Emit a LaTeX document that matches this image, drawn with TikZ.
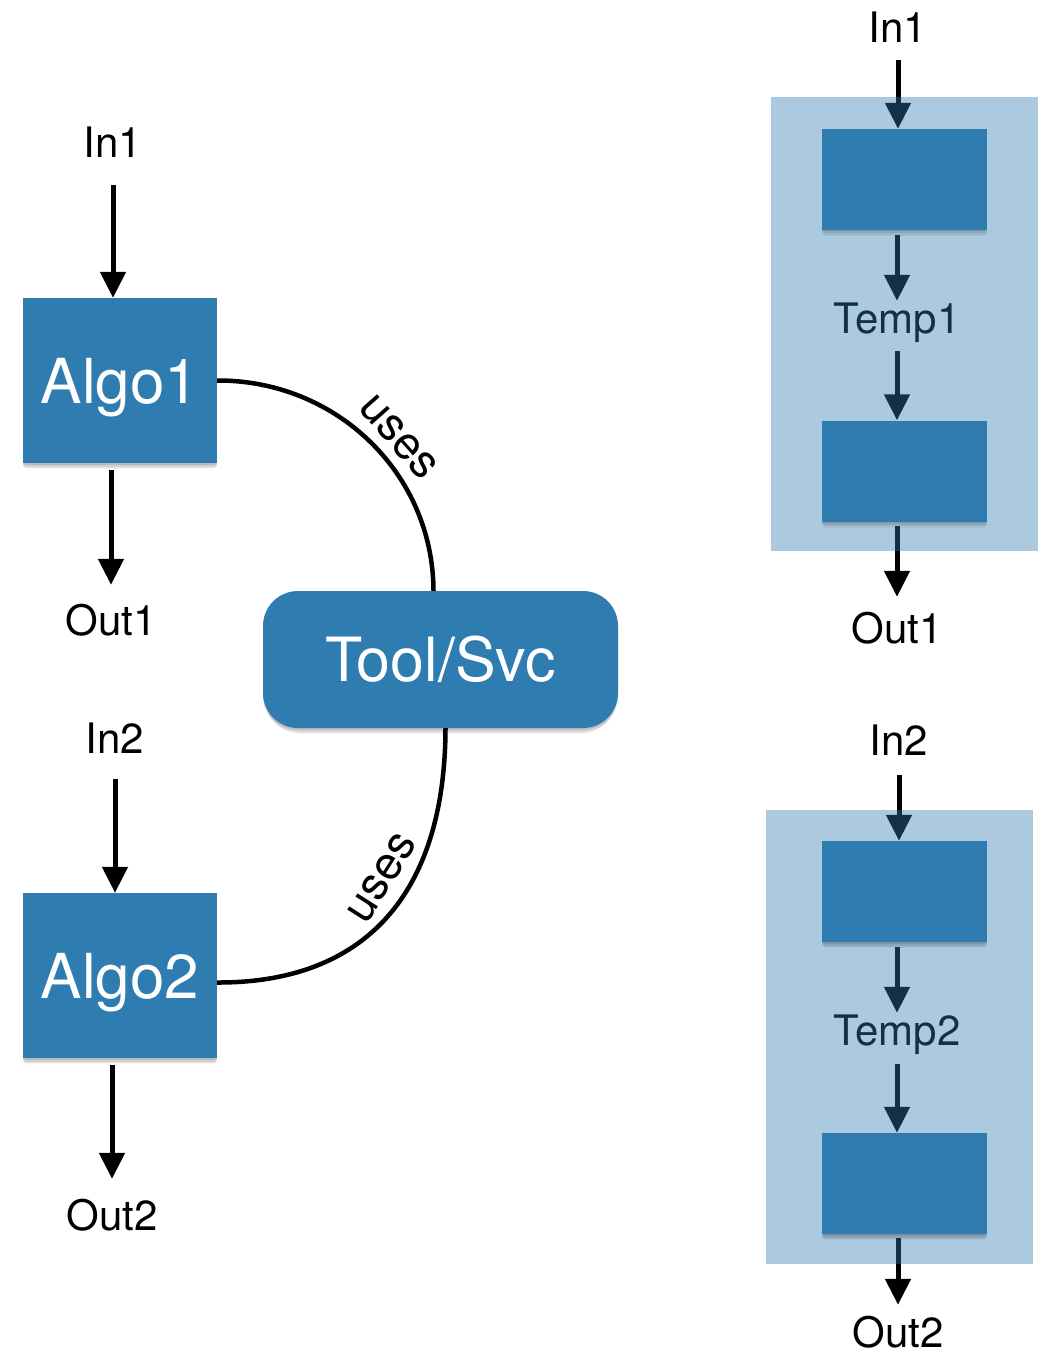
\documentclass[tikz,border=0pt]{standalone}
\usepackage{fontspec}
\setmainfont{TeX Gyre Heros}
\usetikzlibrary{arrows.meta,shadows}
\definecolor{boxblue}{RGB}{46,124,176}
\pgfdeclarelayer{paper}
\pgfdeclarelayer{back}
\pgfdeclarelayer{front}
\pgfsetlayers{paper,back,main,front}
\tikzset{
  lbl/.style={font=\fontsize{42}{42}\selectfont, inner sep=0pt, text height=30pt, text depth=0pt},
  % a soft drop shadow built from a few faint offset copies
  softshadow/.style={
    general shadow={shadow xshift=0pt, shadow yshift=-1.5pt, fill=black, opacity=0.10},
    general shadow={shadow xshift=0pt, shadow yshift=-3.5pt, fill=black, opacity=0.09},
    general shadow={shadow xshift=0pt, shadow yshift=-5.5pt, shadow scale=0.99, fill=black, opacity=0.06},
    general shadow={shadow xshift=0pt, shadow yshift=-7.5pt, shadow scale=0.98, fill=black, opacity=0.04}},
  algobox/.style={fill=boxblue, minimum width=194pt, minimum height=165pt, inner sep=0pt,
    text=white, font=\fontsize{62}{62}\selectfont, text height=45pt, text depth=0pt, softshadow},
  stagebox/.style={fill=boxblue, minimum width=165pt, minimum height=101pt, inner sep=0pt, softshadow},
  toolbox/.style={fill=boxblue, rounded corners=35pt, minimum width=355pt, minimum height=137pt,
    inner sep=0pt, text=white, font=\fontsize{61}{61}\selectfont, text height=44pt, text depth=0pt,
    softshadow},
  panel/.style={fill=boxblue, fill opacity=0.4, minimum width=267pt, minimum height=454pt, inner sep=0pt},
  flow/.style={line width=5pt, -{Triangle[width=25pt,length=26pt]}},
  link/.style={line width=4.5pt},
  usesl/.style={font=\fontsize{46}{46}\selectfont, inner sep=0pt},
}
\begin{document}
\begin{tikzpicture}[x=1pt,y=-1pt]
\begin{pgfonlayer}{paper}
  \fill[white] (0,0) rectangle (1041,1356);
\end{pgfonlayer}
\useasboundingbox (0,0) rectangle (1041,1356);

% ---- left: two algorithms sharing one tool ----
\node[lbl] (in1) at (113,143) {In1};
\node[algobox] (algo1) at (120,380.5) {Algo1};
\node[lbl] (out1) at (111,620) {Out1};
\node[lbl] (in2) at (115,738) {In2};
\node[algobox] (algo2) at (120,975.5) {Algo2};
\node[lbl] (out2) at (112,1215) {Out2};
\node[toolbox] (tool) at (440.5,659.5) {Tool/Svc};

\draw[flow, shorten <=27pt] (in1) -- (in1 |- algo1.north);
\draw[flow, shorten <=7pt, shorten >=20pt] (out1 |- algo1.south) -- (out1);
\draw[flow, shorten <=26pt] (in2) -- (in2 |- algo2.north);
\draw[flow, shorten <=7pt, shorten >=21pt] (out2 |- algo2.south) -- (out2);

\draw[link] (algo1.east) .. controls (336,380) and (433,473) .. ([xshift=-7pt]tool.north)
  node[usesl, sloped, above=9pt, pos=0.55] {uses};
\draw[link] ([xshift=5pt]tool.south) .. controls (445,894) and (365,983) .. ([yshift=-7pt]algo2.east)
  node[usesl, sloped, above=13pt, pos=0.41] {uses};

% ---- right: two pipelines with a temporary in between ----
\begin{pgfonlayer}{front}
  \node[stagebox] (s1a) at (904.5,179.5) {};
  \node[stagebox] (s1b) at (904.5,471) {};
  \node[stagebox] (s2a) at (904.5,891.5) {};
  \node[stagebox] (s2b) at (904.5,1183.5) {};
\end{pgfonlayer}

\node[panel] (panel1) at (904.5,324) {};
\node[panel] (panel2) at (899.5,1036.5) {};

\begin{pgfonlayer}{back}
  \node[lbl] (rin1) at (898,28) {In1};
  \node[lbl] (temp1) at (897,318) {Temp1};
  \node[lbl] (rout1) at (897,628) {Out1};
  \node[lbl] (rin2) at (899,740) {In2};
  \node[lbl] (temp2) at (897,1030) {Temp2};
  \node[lbl] (rout2) at (898,1332) {Out2};

  \draw[flow, shorten <=17pt] (rin1) -- (rin1 |- s1a.north);
  \draw[flow, shorten <=5pt, shorten >=2pt] (temp1 |- s1a.south) -- (temp1);
  \draw[flow, shorten <=18pt] (temp1) -- (temp1 |- s1b.north);
  \draw[flow, shorten <=4pt, shorten >=16pt] (rout1 |- s1b.south) -- (rout1);

  \draw[flow, shorten <=20pt] (rin2) -- (rin2 |- s2a.north);
  \draw[flow, shorten <=5pt, shorten >=2pt] (temp2 |- s2a.south) -- (temp2);
  \draw[flow, shorten <=19pt] (temp2) -- (temp2 |- s2b.north);
  \draw[flow, shorten <=4pt, shorten >=12pt] (rout2 |- s2b.south) -- (rout2);
\end{pgfonlayer}
\end{tikzpicture}
\end{document}
